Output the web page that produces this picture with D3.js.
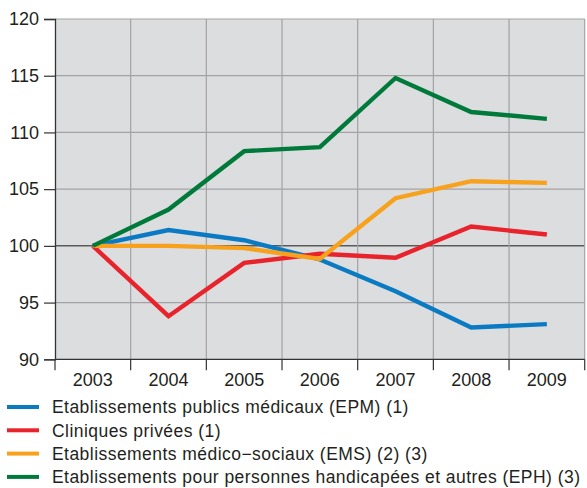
<!DOCTYPE html>
<html><head><meta charset="utf-8">
<script src="https://cdn.jsdelivr.net/npm/d3@7"></script>
<style>body{margin:0;background:#fff;}svg{display:block;font-family:"Liberation Sans",Arial,sans-serif;}</style>
</head><body><svg id="c" width="587" height="488"></svg>
<script>
const years = ["2003","2004","2005","2006","2007","2008","2009"];
const yTicks = [90,95,100,105,110,115,120];
const seriesNames = [
  "Etablissements publics médicaux (EPM) (1)",
  "Cliniques privées (1)",
  "Etablissements médico\u2212sociaux (EMS) (2) (3)",
  "Etablissements pour personnes handicapées et autres (EPH) (3)"
];
const epm = [100, 101.4, 100.5, 98.8, 96.0, 92.8, 93.1];
const cliniques = [100, 93.8, 98.5, 99.3, 98.95, 101.7, 101.0];
const ems = [100, 100.0, 99.8, 98.85, 104.2, 105.7, 105.55];
const eph = [100, 103.2, 108.35, 108.7, 114.8, 111.8, 111.2];
const colors = ["#0a7bc3", "#e9232b", "#f8a11c", "#007a3b"];

const svg = d3.select("#c");
const L = 55, R = 584.7, T = 19, B = 359.3;
const x = d3.scaleBand().domain(years).range([L, R]);
const y = d3.scaleLinear().domain([90,120]).range([B, T]);

svg.append("rect").attr("x",L).attr("y",T).attr("width",R-L).attr("height",B-T).attr("fill","#dcdddf");

// grid
const g = svg.append("g");
yTicks.filter(v=>v!==90).forEach(v=>{
  g.append("line").attr("x1",L).attr("x2",R).attr("y1",y(v)).attr("y2",y(v))
    .attr("stroke", v===100 ? "#5a5a5a" : "#a3a3a5").attr("stroke-width", v===100?1.5:1.2);
});
const bounds = years.map(d=>x(d)).concat([R]);
bounds.slice(1).forEach(bx=>{
  g.append("line").attr("x1",bx).attr("x2",bx).attr("y1",T).attr("y2",B)
    .attr("stroke","#a3a3a5").attr("stroke-width",1.2);
});

// y axis
const yAxis = d3.axisLeft(y).tickValues(yTicks).tickSize(11).tickPadding(5);
const ya = svg.append("g").attr("transform",`translate(${L},0)`).call(yAxis);
ya.select(".domain").attr("stroke","#333").attr("stroke-width",1.3);
ya.selectAll(".tick line").attr("stroke","#333").attr("stroke-width",1.2);
ya.selectAll(".tick text").attr("font-size",18).attr("fill","#231f20").attr("font-family","Liberation Sans, Arial, sans-serif");

// x axis
const xa = svg.append("g").attr("transform",`translate(0,${B})`);
xa.append("line").attr("x1",L).attr("x2",R).attr("stroke","#333").attr("stroke-width",1.3);
bounds.forEach(bx=>{
  xa.append("line").attr("x1",bx).attr("x2",bx).attr("y1",0).attr("y2",11).attr("stroke","#333").attr("stroke-width",1.2);
});
years.forEach(d=>{
  xa.append("text").attr("x",x(d)+x.bandwidth()/2).attr("y",26.5).attr("text-anchor","middle")
    .attr("font-size",18).attr("fill","#231f20").text(d);
});

// lines
const line = d3.line().x((d,i)=>x(years[i])+x.bandwidth()/2).y(d=>y(d));
[epm, cliniques, ems, eph].forEach((s,i)=>{
  svg.append("path").datum(s).attr("d",line).attr("fill","none")
    .attr("stroke",colors[i]).attr("stroke-width",4.4).attr("stroke-linejoin","miter");
});

// legend
const leg = svg.append("g");
seriesNames.forEach((n,i)=>{
  const cy = 407 + i*23.3;
  leg.append("line").attr("x1",7).attr("x2",39).attr("y1",cy).attr("y2",cy)
    .attr("stroke",colors[i]).attr("stroke-width",4);
  leg.append("text").attr("x",52).attr("y",cy+6.2).attr("font-size",17.5)
    .attr("letter-spacing","0.45px").attr("fill","#231f20").text(n);
});
</script></body></html>
